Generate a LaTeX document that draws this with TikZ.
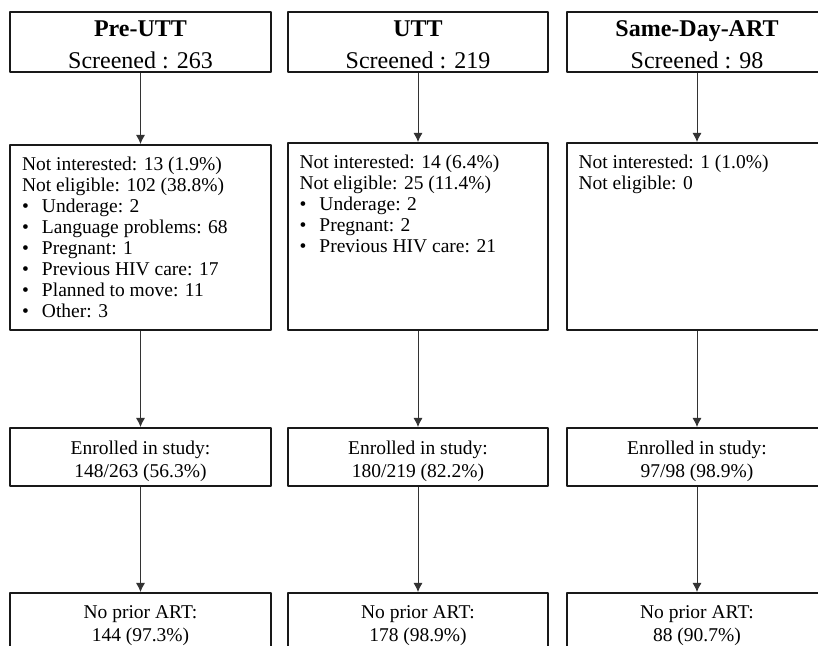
\documentclass[tikz,border=0pt]{standalone}
\usepackage{fontspec}
\setmainfont{Liberation Serif}
\usetikzlibrary{arrows.meta}
\tikzset{
  flowbox/.style={draw=black!90,line width=2bp,inner sep=0pt,minimum width=261bp},
  headbox/.style={flowbox,font=\fontsize{24bp}{32bp}\selectfont},
  countbox/.style={flowbox,font=\fontsize{19.5bp}{23bp}\selectfont},
  listbox/.style={flowbox,font=\fontsize{19.5bp}{21bp}\selectfont},
  flowline/.style={black!80,line width=0.9bp,->},
}
\newcommand{\listitem}[1]{\makebox[20bp][l]{\textbullet}#1}
\newcommand{\panel}[3]{\parbox[c][#1][t]{237bp}{\vspace*{#2}#3}}
\begin{document}
\begin{tikzpicture}[>={Latex[length=9bp,width=9bp]},line join=bevel,]
\useasboundingbox (0bp,0bp) rectangle (818bp,646bp);
%%
\node (pre_screen) at (140.5bp,604bp) [headbox] {\panel{60bp}{9bp}{\centering\textbf{Pre-UTT}\\Screened : 263}};
  \node (utt_screen) at (418bp,604bp) [headbox,minimum width=260bp] {\panel{60bp}{9bp}{\centering\textbf{UTT}\\Screened : 219}};
  \node (sda_screen) at (697bp,604bp) [headbox] {\panel{60bp}{9bp}{\centering\textbf{Same-Day-ART}\\Screened : 98}};
%
\node (pre_excl) at (140.5bp,408.5bp) [listbox] {\panel{185bp}{11.5bp}{Not interested: 13 (1.9\%)\\
    Not eligible: 102 (38.8\%)\\
    \listitem{Underage: 2}\\
    \listitem{Language problems: 68}\\
    \listitem{Pregnant: 1}\\
    \listitem{Previous HIV care: 17}\\
    \listitem{Planned to move: 11}\\
    \listitem{Other: 3}}};
  \node (utt_excl) at (418bp,409.5bp) [listbox,minimum width=260bp] {\panel{187bp}{11.5bp}{Not interested: 14 (6.4\%)\\
    Not eligible: 25 (11.4\%)\\
    \listitem{Underage: 2}\\
    \listitem{Pregnant: 2}\\
    \listitem{Previous HIV care: 21}}};
  \node (sda_excl) at (697bp,409.5bp) [listbox] {\panel{187bp}{11.5bp}{Not interested: 1 (1.0\%)\\
    Not eligible: 0}};
%
\node (pre_enrol) at (140.5bp,189bp) [countbox] {\panel{58bp}{13bp}{\centering Enrolled in study:\\148/263 (56.3\%)}};
  \node (utt_enrol) at (418bp,189bp) [countbox,minimum width=260bp] {\panel{58bp}{13bp}{\centering Enrolled in study:\\180/219 (82.2\%)}};
  \node (sda_enrol) at (697bp,189bp) [countbox] {\panel{58bp}{13bp}{\centering Enrolled in study:\\97/98 (98.9\%)}};
%
\node (pre_naive) at (140.5bp,24bp) [countbox] {\panel{58bp}{13bp}{\centering No prior ART:\\144 (97.3\%)}};
  \node (utt_naive) at (418bp,24bp) [countbox,minimum width=260bp] {\panel{58bp}{13bp}{\centering No prior ART:\\178 (98.9\%)}};
  \node (sda_naive) at (697bp,24bp) [countbox] {\panel{58bp}{13bp}{\centering No prior ART:\\88 (90.7\%)}};
%%
\foreach \arm in {pre,utt,sda} {
  \draw [flowline] (\arm_screen) -- (\arm_screen |- \arm_excl.north);
  \draw [flowline] (\arm_excl.south -| \arm_enrol) -- (\arm_enrol);
  \draw [flowline] (\arm_enrol) -- (\arm_naive);
}
%
\end{tikzpicture}
\end{document}
